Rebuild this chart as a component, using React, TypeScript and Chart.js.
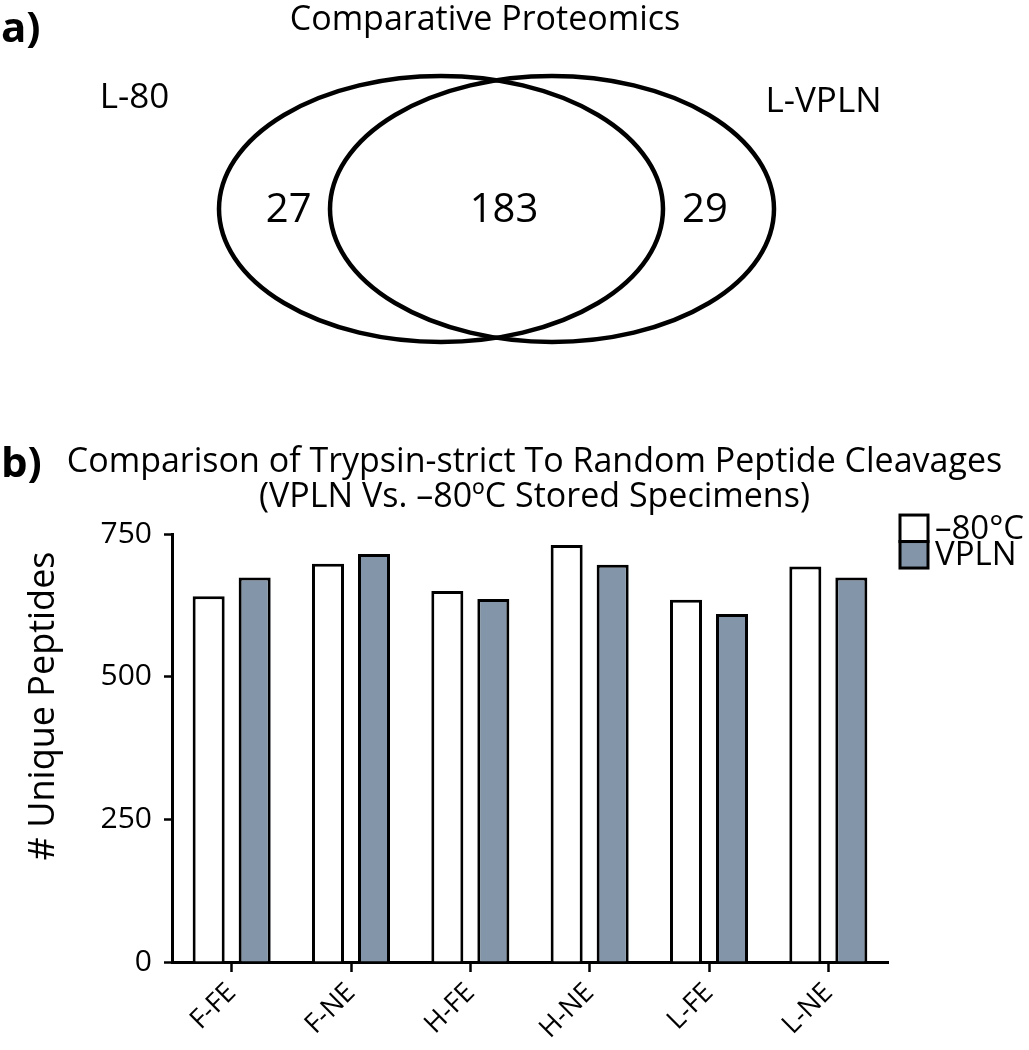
import React, { useEffect, useRef } from 'react';
import { Chart, registerables } from 'chart.js';

Chart.register(...registerables);

// ---------- data ----------
const vennTitle = 'Comparative Proteomics';
const vennSets = ['L-80', 'L-VPLN'];
const vennCounts = [27, 183, 29]; // L-80 only, shared, L-VPLN only

const barTitle = [
  'Comparison of Trypsin-strict To Random Peptide Cleavages',
  '(VPLN Vs. \u201380\u00BAC Stored Specimens)',
];
const categories = ['F-FE', 'F-NE', 'H-FE', 'H-NE', 'L-FE', 'L-NE'];
const seriesNames = ['\u201380\u00B0C', 'VPLN'];
const minus80Values = [641, 698, 650, 731, 635, 693];
const vplnValues = [674, 715, 636, 696, 610, 674];
const yTickStep = 250;
const yMax = 750;
const yAxisTitle = '# Unique Peptides';

// ---------- layout / style ----------
const FONT = '"Open Sans", "DejaVu Sans", sans-serif';
const GRAY = '#8396a9';
const VENN_CENTERS = [-0.25, 0.25];
const VENN_R = 1;
const VENN_COUNT_POS = [[-0.936, -0.01], [0.034, -0.01], [0.939, -0.01]];
const VENN_SET_POS = [[-1.631, 0.835], [1.473, 0.807]];

const vennPlugin = {
  id: 'vennDraw',
  afterDraw(chart: any) {
    const { ctx } = chart;
    const x = chart.scales.x;
    const y = chart.scales.y;
    ctx.save();
    ctx.lineWidth = 4.5;
    ctx.strokeStyle = '#000';
    VENN_CENTERS.forEach((c) => {
      const cx = x.getPixelForValue(c);
      const cy = y.getPixelForValue(0);
      const rx = x.getPixelForValue(c + VENN_R) - cx;
      const ry = cy - y.getPixelForValue(VENN_R);
      ctx.beginPath();
      ctx.ellipse(cx, cy, rx, ry, 0, 0, Math.PI * 2);
      ctx.stroke();
    });
    ctx.fillStyle = '#000';
    ctx.textAlign = 'center';
    ctx.textBaseline = 'middle';
    ctx.font = `40px ${FONT}`;
    vennCounts.forEach((n, i) => {
      ctx.fillText(String(n), x.getPixelForValue(VENN_COUNT_POS[i][0]), y.getPixelForValue(VENN_COUNT_POS[i][1]));
    });
    ctx.font = `35px ${FONT}`;
    vennSets.forEach((s, i) => {
      ctx.fillText(s, x.getPixelForValue(VENN_SET_POS[i][0]), y.getPixelForValue(VENN_SET_POS[i][1]));
    });
    ctx.restore();
  },
};

const boxLegendPlugin = {
  id: 'boxLegend',
  afterDraw(chart: any) {
    const { ctx, chartArea } = chart;
    const x0 = chartArea.right + 12;
    const y0 = chartArea.top - 19;
    const w = 28;
    const h = 26.5;
    ctx.save();
    chart.data.datasets.forEach((ds: any, i: number) => {
      ctx.fillStyle = ds.backgroundColor;
      ctx.fillRect(x0, y0 + i * h, w, h);
      ctx.lineWidth = 3;
      ctx.strokeStyle = '#000';
      ctx.strokeRect(x0, y0 + i * h, w, h);
      ctx.fillStyle = '#000';
      ctx.font = `33px ${FONT}`;
      ctx.textAlign = 'left';
      ctx.textBaseline = 'middle';
      ctx.fillText(ds.label, x0 + w + 7, y0 + i * h + h / 2 + 1);
    });
    ctx.restore();
  },
};

export default function App() {
  const vennRef = useRef<HTMLCanvasElement | null>(null);
  const barRef = useRef<HTMLCanvasElement | null>(null);

  useEffect(() => {
    let venn: Chart | null = null;
    let bar: Chart | null = null;
    let cancelled = false;

    const build = () => {
      if (cancelled || !vennRef.current || !barRef.current) return;
      venn = new Chart(vennRef.current, {
        type: 'scatter',
        data: { datasets: [{ data: [], pointRadius: 0 }] },
        options: {
          animation: false,
          responsive: false,
          events: [],
          layout: { padding: { right: 59 } },
          plugins: {
            legend: { display: false },
            tooltip: { enabled: false },
            title: {
              display: true,
              text: vennTitle,
              color: '#000',
              font: { family: FONT, size: 34, weight: 'normal', lineHeight: 1.0 },
              padding: { top: 3, bottom: 0 },
            },
          },
          scales: {
            x: { type: 'linear', display: false, min: -2.2365, max: 2.1329 },
            y: { type: 'linear', display: false, min: -1.2857, max: 1.2932 },
          },
        },
        plugins: [vennPlugin],
      } as any);

      bar = new Chart(barRef.current, {
        type: 'bar',
        data: {
          labels: categories,
          datasets: [
            { label: seriesNames[0], data: minus80Values, backgroundColor: '#ffffff', borderColor: '#000', borderWidth: 3 },
            { label: seriesNames[1], data: vplnValues, backgroundColor: GRAY, borderColor: '#000', borderWidth: 3 },
          ],
        },
        options: {
          animation: false,
          responsive: false,
          events: [],
          layout: { padding: { left: 40, right: 0 } },
          datasets: { bar: { categoryPercentage: 0.771, barPercentage: 0.696 } },
          plugins: {
            legend: { display: false },
            tooltip: { enabled: false },
            title: {
              display: true,
              fullSize: true,
              text: barTitle,
              color: '#000',
              font: { family: FONT, size: 34, weight: 'normal', lineHeight: 1.03 },
              padding: { top: 64.5, bottom: 19.5 },
            },
          },
          scales: {
            x: {
              grid: { display: true, drawOnChartArea: false, drawTicks: true, tickLength: 10, tickWidth: 2.5, tickColor: '#000', offset: false },
              border: { display: true, color: '#000', width: 3 },
              ticks: { color: '#000', font: { family: FONT, size: 27 }, minRotation: 45, maxRotation: 45, padding: 5 },
              afterFit(s: any) { s.height = 88; },
            },
            y: {
              min: 0,
              max: yMax,
              ticks: { stepSize: yTickStep, color: '#000', font: { family: FONT, size: 30 }, padding: 12 },
              grid: { display: true, drawOnChartArea: false, drawTicks: true, tickLength: 8, tickWidth: 2.5, tickColor: '#000' },
              border: { display: true, color: '#000', width: 3 },
              title: {
                display: true,
                text: ' '.repeat(9) + yAxisTitle,
                color: '#000',
                font: { family: FONT, size: 36, weight: 'normal', lineHeight: 1.2 },
                padding: { top: -17.6, bottom: 0 },
              },
              afterFit(s: any) { s.width = 132; },
            },
            yRightSpace: {
              type: 'linear',
              position: 'right',
              display: true,
              grid: { display: false, drawTicks: false },
              border: { display: false },
              ticks: { display: false },
              afterFit(s: any) { s.width = 141; },
            },
          },
        },
        plugins: [boxLegendPlugin],
      } as any);
    };

    const fontsReady = (document as any).fonts
      ? Promise.all([
          (document as any).fonts.load(`30px "Open Sans"`),
          (document as any).fonts.load(`bold 30px "Open Sans"`),
        ]).catch(() => null)
      : Promise.resolve(null);
    fontsReady.then(build);

    return () => {
      cancelled = true;
      if (venn) venn.destroy();
      if (bar) bar.destroy();
    };
  }, []);

  const letter: React.CSSProperties = {
    position: 'absolute',
    fontFamily: FONT,
    fontWeight: 'bold',
    fontSize: 42,
    lineHeight: 1,
    color: '#000',
    margin: 0,
  };

  return (
    <div style={{ position: 'absolute', left: 0, top: 0, width: 1029, height: 1050, background: '#fff', overflow: 'hidden' }}>
      <canvas ref={vennRef} width={1029} height={380} style={{ position: 'absolute', left: 0, top: 0 }} />
      <canvas ref={barRef} width={1029} height={670} style={{ position: 'absolute', left: 0, top: 380 }} />
      <div style={{ ...letter, left: 1, top: 5 }}>a)</div>
      <div style={{ ...letter, left: 1, top: 440 }}>b)</div>
    </div>
  );
}
